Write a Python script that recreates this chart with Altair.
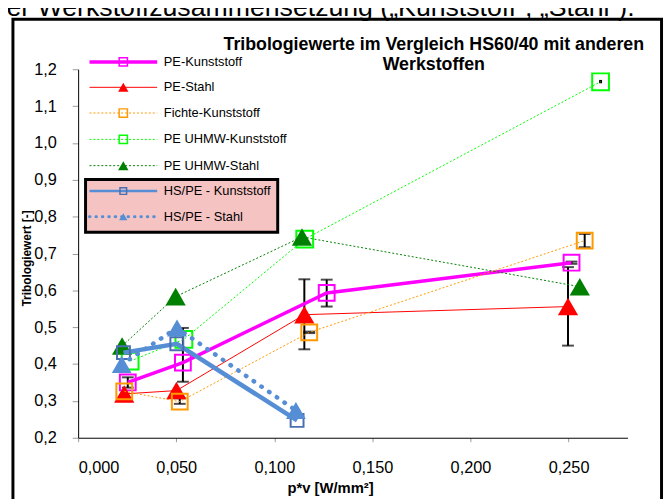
import altair as alt
import pandas as pd

# ---------------- data ----------------
series_names = ["PE-Kunststoff", "PE-Stahl", "Fichte-Kunststoff", "PE UHMW-Kunststoff",
                "PE UHMW-Stahl", "HS/PE - Kunststoff", "HS/PE - Stahl"]
pe_k_x = [0.0253, 0.0534, 0.1267, 0.2515]
pe_k_y = [0.350, 0.404, 0.593, 0.675]
pe_s_x = [0.0235, 0.0501, 0.1153, 0.2497]
pe_s_y = [0.319, 0.328, 0.534, 0.556]
fi_k_x = [0.0235, 0.0518, 0.1178, 0.2582]
fi_k_y = [0.326, 0.298, 0.486, 0.735]
uh_k_x = [0.0265, 0.0539, 0.1155, 0.2663]
uh_k_y = [0.408, 0.467, 0.739, 1.166]
uh_s_x = [0.0224, 0.0497, 0.1141, 0.2557]
uh_s_y = [0.449, 0.583, 0.745, 0.610]
hs_k_x = [0.0231, 0.0503, 0.1116]
hs_k_y = [0.431, 0.455, 0.247]
hs_s_x = [0.0222, 0.0504, 0.1110]
hs_s_y = [0.399, 0.498, 0.274]

# error bars (x, low, high)
err_x = [0.0253, 0.0534, 0.1267, 0.2515, 0.1153, 0.2497, 0.0518, 0.1178, 0.2582]
err_lo = [0.336, 0.352, 0.556, 0.672, 0.440, 0.450, 0.292, 0.484, 0.717]
err_hi = [0.364, 0.498, 0.629, 0.678, 0.630, 0.663, 0.307, 0.488, 0.753]
# tiny error bar without caps
small_err_x = [0.2663]
small_err_lo = [1.162]
small_err_hi = [1.171]

y_ticks = [0.2, 0.3, 0.4, 0.5, 0.6, 0.7, 0.8, 0.9, 1.0, 1.1, 1.2]
x_ticks = [0.0, 0.05, 0.10, 0.15, 0.20, 0.25]

title_lines = ["Tribologiewerte im Vergleich HS60/40 mit anderen", "Werkstoffen"]
doc_text = "ter Werkstoffzusammensetzung (\u201eKunststoff\u201c, \u201eStahl\u201c)."

series_xy = [(pe_k_x, pe_k_y), (pe_s_x, pe_s_y), (fi_k_x, fi_k_y), (uh_k_x, uh_k_y),
             (uh_s_x, uh_s_y), (hs_k_x, hs_k_y), (hs_s_x, hs_s_y)]

rows = []
for name, (xs, ys) in zip(series_names, series_xy):
    for i, (xv, yv) in enumerate(zip(xs, ys)):
        rows.append({"series": name, "x": xv, "y": yv, "i": i})
df = pd.DataFrame(rows)
err_df = pd.DataFrame({"x": err_x, "lo": err_lo, "hi": err_hi})
small_err_df = pd.DataFrame({"x": small_err_x, "lo": small_err_lo, "hi": small_err_hi})

# ---------------- styles ----------------
BLUE = "#558ED5"
styles = {
    "PE-Kunststoff": dict(color="#FF00FF", lw=3.5, dash=None, shape="square", filled=False,
                          size=256, mcolor="#FF00FF", lsize=70),
    "PE-Stahl": dict(color="#FF0000", lw=1, dash=None, shape="triangle-up", filled=True,
                     size=420, mcolor="#FF0000", lsize=110),
    "Fichte-Kunststoff": dict(color="#FF9900", lw=1, dash=[2, 2], shape="square", filled=False,
                              size=256, mcolor="#FF9900", lsize=70),
    "PE UHMW-Kunststoff": dict(color="#00FF00", lw=1, dash=[2, 2], shape="square", filled=False,
                               size=289, mcolor="#00FF00", lsize=70),
    "PE UHMW-Stahl": dict(color="#008000", lw=1, dash=[2, 2], shape="triangle-up", filled=True,
                          size=420, mcolor="#008000", lsize=110),
    "HS/PE - Kunststoff": dict(color=BLUE, lw=4.5, dash=None, shape="square", filled=False,
                               size=170, mcolor="#4A6FB0", lsize=45),
    "HS/PE - Stahl": dict(color=BLUE, lw=4.5, dash=[0.5, 9], shape="triangle-up", filled=True,
                          size=400, mcolor=BLUE, lsize=70),
}

W, H = 556, 373
xscale = alt.Scale(domain=[0, 0.28], nice=False, zero=False)
yscale = alt.Scale(domain=[0.2, 1.2], nice=False, zero=False)
FONT = "Liberation Sans"

x_axis = alt.Axis(values=x_ticks, grid=False, domainColor="black", domainWidth=1,
                  tickColor="#999999", tickSize=4, labelFont=FONT, labelFontSize=16.5,
                  labelColor="black", labelPadding=18, labelOverlap=False,
                  labelExpr="replace(format(datum.value, '.3f'), '.', ',')",
                  title="p*v [W/mm\u00b2]", titleFont=FONT, titleFontSize=15, titleFontWeight="bold",
                  titleColor="black", titleX=255, titleY=50, titleBaseline="middle",
                  titleAnchor="start", titleAlign="center")
y_axis = alt.Axis(values=y_ticks, grid=False, domainColor="black", domainWidth=1,
                  tickColor="#999999", tickSize=6, labelFont=FONT, labelFontSize=16.5,
                  labelColor="black", labelPadding=16, labelOverlap=False,
                  labelExpr="replace(format(datum.value, '.1f'), '.', ',')",
                  title="Tribologiewert [-]", titleFont=FONT, titleFontSize=12, titleFontWeight="bold",
                  titleColor="black", titleX=-52, titleY=191, titleBaseline="middle",
                  titleAnchor="start", titleAlign="center", titleAngle=270)


def X(field):
    return alt.X(field, scale=xscale, axis=x_axis)


def Y(field):
    return alt.Y(field, scale=yscale, axis=y_axis)


one = pd.DataFrame({"a": [0]})

layers = []

# outer frame of the embedded chart
layers.append(alt.Chart(one).mark_rect(filled=False, stroke="black", strokeWidth=3).encode(
    x=alt.value(-66), x2=alt.value(590.5), y=alt.value(-50.5), y2=alt.value(460)))

# top document text (cut off at the page edge, as in the original)
layers.append(alt.Chart(one).mark_text(text=doc_text, font=FONT, fontSize=27, align="left",
                                       baseline="alphabetic", color="black").encode(
    x=alt.value(-80), y=alt.value(-54)))

# chart title
for k, line in enumerate(title_lines):
    layers.append(alt.Chart(one).mark_text(text=line, font=FONT, fontSize=18, fontWeight="bold",
                                           align="center", baseline="middle", color="black").encode(
        x=alt.value(360), y=alt.value(-24 + 19.5 * k)))

# error bars
base_err = alt.Chart(err_df)
layers.append(base_err.mark_rule(color="black", strokeWidth=2).encode(
    x=X("x:Q"), y=Y("lo:Q"), y2="hi:Q"))
for col in ["lo", "hi"]:
    layers.append(base_err.mark_tick(color="black", orient="horizontal", size=12, thickness=2).encode(
        x=X("x:Q"), y=Y(f"{col}:Q")))
layers.append(alt.Chart(small_err_df).mark_rule(color="black", strokeWidth=3).encode(
    x=X("x:Q"), y=Y("lo:Q"), y2="hi:Q"))

# series
for name in series_names:
    st = styles[name]
    sub = alt.Chart(df).transform_filter(alt.datum.series == name)
    lkw = dict(color=st["color"], strokeWidth=st["lw"])
    if st["dash"]:
        lkw["strokeDash"] = st["dash"]
    if name == "HS/PE - Stahl":
        lkw["strokeCap"] = "round"
    layers.append(sub.mark_line(**lkw).encode(x=X("x:Q"), y=Y("y:Q"), order="i:Q"))
    if st["filled"]:
        pm = sub.mark_point(shape=st["shape"], filled=True, size=st["size"], color=st["mcolor"],
                            opacity=1, strokeWidth=0)
    else:
        pm = sub.mark_point(shape=st["shape"], filled=False, size=st["size"], color=st["mcolor"],
                            opacity=1, strokeWidth=2)
    layers.append(pm.encode(x=X("x:Q"), y=Y("y:Q")))

# legend (manual, placed like the original)
leg_y = [-7.4, 18.3, 44.3, 71.0, 97.6, 123.3, 149.3]
layers.append(alt.Chart(one).mark_rect(fill="#F6C3C3", stroke="black", strokeWidth=3).encode(
    x=alt.value(7.5), x2=alt.value(202), y=alt.value(111.5), y2=alt.value(165)))
for name, ly in zip(series_names, leg_y):
    st = styles[name]
    lkw = dict(color=st["color"], strokeWidth=min(st["lw"], 3.5))
    if st["dash"]:
        lkw["strokeDash"] = st["dash"] if name != "HS/PE - Stahl" else [0.5, 6]
    if name == "HS/PE - Stahl":
        lkw["strokeCap"] = "round"
        lkw["strokeWidth"] = 3
    if name == "HS/PE - Kunststoff":
        lkw["strokeWidth"] = 2.5
    layers.append(alt.Chart(one).mark_rule(**lkw).encode(
        x=alt.value(11.5), x2=alt.value(80), y=alt.value(ly)))
    if st["filled"]:
        pm = alt.Chart(one).mark_point(shape=st["shape"], filled=True, size=st["lsize"],
                                       color=st["mcolor"], opacity=1, strokeWidth=0)
    else:
        pm = alt.Chart(one).mark_point(shape=st["shape"], filled=False, size=st["lsize"],
                                       color=st["mcolor"], opacity=1, strokeWidth=1.5)
    layers.append(pm.encode(x=alt.value(45.7), y=alt.value(ly)))
    layers.append(alt.Chart(one).mark_text(text=name, font=FONT, fontSize=13, align="left",
                                           baseline="middle", color="black").encode(
        x=alt.value(86.7), y=alt.value(ly)))

chart = alt.layer(*layers).properties(
    width=W, height=H,
    autosize=alt.AutoSizeParams(type="none"),
    padding={"left": 71, "top": 59, "right": 37, "bottom": 59},
    background="white",
).configure_view(stroke=None).configure_axis(labelOverlap=False)

chart.save("out.html", embed_options={"renderer": "svg", "actions": False})
